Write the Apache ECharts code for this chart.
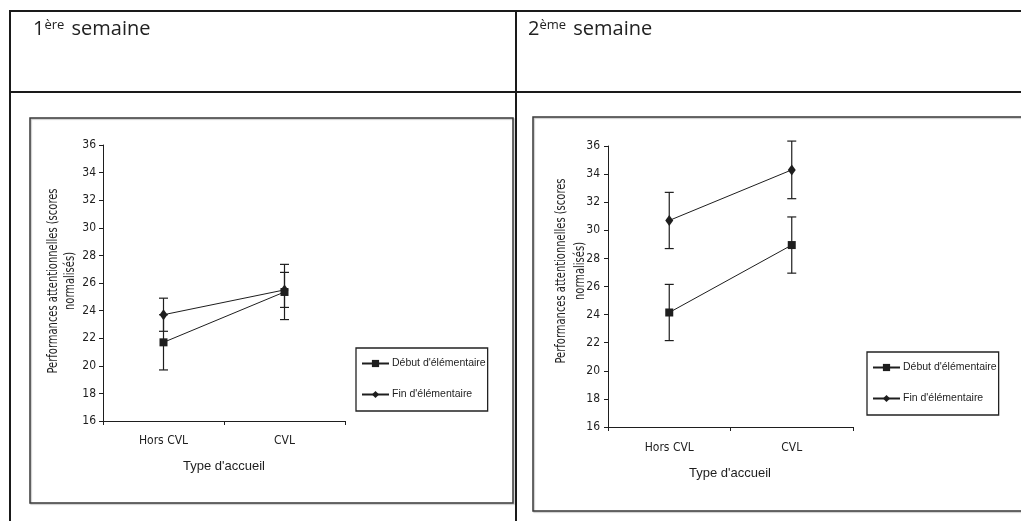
<!DOCTYPE html>
<html lang="fr">
<head>
<meta charset="UTF-8">
<title>Performances attentionnelles</title>
<script src="https://cdn.jsdelivr.net/npm/echarts@6/dist/echarts.min.js"></script>
<style>
  body { margin: 0; background: #fff; }
  #box { width: 1021px; height: 521px; }
</style>
</head>
<body>
<div id="box"></div>
<script>
    var categories = ['Hors CVL', 'CVL'];
    var yTicks = [16, 36, 2];

    // 1ere semaine
    var s1Debut = [21.7, 25.35];
    var s1DebutErr = [2.0, 2.0];
    var s1Fin = [23.7, 25.5];
    var s1FinErr = [1.2, 1.27];

    // 2eme semaine
    var s2Debut = [24.15, 28.95];
    var s2DebutErr = [2.0, 2.0];
    var s2Fin = [30.7, 34.3];
    var s2FinErr = [2.0, 2.05];

    var serieNames = ['Début d\'élémentaire', 'Fin d\'élémentaire'];

    var narrow = "'Liberation Sans Narrow', 'Arial Narrow', 'DejaVu Sans Condensed', sans-serif";
    var ink = '#1e1e1e';

    var myChart = echarts.init(document.getElementById('box'));

    // barres d'erreur : [categorie, bas, haut]
    function errData(vals, errs) {
        var out = [];
        for (var i = 0; i < vals.length; i++)
            out.push([i, vals[i] - errs[i], vals[i] + errs[i]]);
        return out;
    }

    function renderErr(params, api) {
        var lo = api.coord([api.value(0), api.value(1)]);
        var hi = api.coord([api.value(0), api.value(2)]);
        var hw = 4.5;
        var st = { stroke: ink, lineWidth: 1.2 };
        return {
            type: 'group',
            children: [
                { type: 'line', shape: { x1: lo[0], y1: lo[1], x2: hi[0], y2: hi[1] }, style: st },
                { type: 'line', shape: { x1: lo[0] - hw, y1: lo[1], x2: lo[0] + hw, y2: lo[1] }, style: st },
                { type: 'line', shape: { x1: hi[0] - hw, y1: hi[1], x2: hi[0] + hw, y2: hi[1] }, style: st }
            ]
        };
    }

    function xAxis(idx, margin) {
        return {
            type: 'category', gridIndex: idx, data: categories, boundaryGap: true,
            axisLine: { lineStyle: { color: ink, width: 1 } },
            axisTick: { show: true, length: 4, alignWithLabel: false, lineStyle: { color: ink } },
            axisLabel: { margin: margin, fontSize: 12, fontFamily: narrow, color: ink },
            splitLine: { show: false }
        };
    }

    function yAxis(idx, margin) {
        return {
            type: 'value', gridIndex: idx, min: yTicks[0], max: yTicks[1], interval: yTicks[2],
            axisLine: { show: true, lineStyle: { color: ink, width: 1 } },
            axisTick: { show: true, length: 4, lineStyle: { color: ink } },
            axisLabel: { margin: margin, fontSize: 12, fontFamily: narrow, color: ink },
            splitLine: { show: false }
        };
    }

    function lineSerie(name, idx, data, symbol, size) {
        return {
            name: name, type: 'line', xAxisIndex: idx, yAxisIndex: idx,
            data: data, symbol: symbol, symbolSize: size,
            lineStyle: { color: ink, width: 1 },
            itemStyle: { color: ink },
            z: 3, animation: false
        };
    }

    function errSerie(idx, data) {
        return {
            type: 'custom', xAxisIndex: idx, yAxisIndex: idx,
            data: data, renderItem: renderErr, z: 2, silent: true, animation: false
        };
    }

    function legend(left, top) {
        return {
            orient: 'vertical', left: left, top: top,
            data: serieNames,
            itemWidth: 27, itemHeight: 9, itemGap: 20,
            padding: [10, 2, 11, 5],
            borderColor: '#222', borderWidth: 1.3,
            textStyle: { fontSize: 10.5, fontFamily: "'Liberation Sans', Arial, sans-serif", color: ink, padding: [0, 0, 0, -2] },
            selectedMode: false
        };
    }

    function header(x, num, sup) {
        return {
            type: 'text', x: x, y: 17,
            style: {
                text: '{n|' + num + '}{s|' + sup + '}{n| semaine}',
                rich: {
                    n: { fontSize: 20, fontFamily: "'Open Sans', sans-serif", fill: '#222', lineHeight: 24 },
                    s: { fontSize: 13, fontFamily: "'Open Sans', sans-serif", fill: '#222', verticalAlign: 'top', lineHeight: 15, padding: [2, 2, 0, 0] }
                }
            }
        };
    }

    // titre vertical, resserre horizontalement comme une police etroite
    function yTitle(x, y, gap) {
        return {
            type: 'text', x: x, y: y, rotation: Math.PI / 2, scaleX: 0.82,
            style: {
                text: 'Performances attentionnelles (scores\nnormalisés)',
                align: 'center', verticalAlign: 'middle',
                fontSize: 13.5, fontFamily: narrow, fill: ink, lineHeight: gap
            }
        };
    }

    function xTitle(x, y) {
        return {
            type: 'text', x: x, y: y,
            style: {
                text: 'Type d\'accueil', align: 'center', verticalAlign: 'middle',
                fontSize: 13, fontFamily: "'Liberation Sans', Arial, sans-serif", fill: ink
            }
        };
    }

    var tableLine = { stroke: '#1a1a1a', lineWidth: 2 };
    var boxLine = { fill: 'none', stroke: '#3a3a3a', lineWidth: 1.5, shadowColor: 'rgba(0,0,0,0.25)', shadowOffsetX: 1, shadowOffsetY: 1, shadowBlur: 1 };

    var option = {
        backgroundColor: '#fff',
        animation: false,
        grid: [
            { left: 103, top: 145, width: 242, height: 276 },
            { left: 608, top: 146, width: 245, height: 281 }
        ],
        xAxis: [xAxis(0, 14), xAxis(1, 15)],
        yAxis: [yAxis(0, 7), yAxis(1, 8)],
        legend: [legend(356, 348), legend(867, 352)],
        series: [
            errSerie(0, errData(s1Debut, s1DebutErr)),
            errSerie(0, errData(s1Fin, s1FinErr)),
            lineSerie(serieNames[0], 0, s1Debut, 'rect', 8),
            lineSerie(serieNames[1], 0, s1Fin, 'diamond', [8, 11]),
            errSerie(1, errData(s2Debut, s2DebutErr)),
            errSerie(1, errData(s2Fin, s2FinErr)),
            lineSerie(serieNames[0], 1, s2Debut, 'rect', 8),
            lineSerie(serieNames[1], 1, s2Fin, 'diamond', [8, 11])
        ],
        graphic: [
            // tableau
            { type: 'line', shape: { x1: 9, y1: 11, x2: 1021, y2: 11 }, style: tableLine },
            { type: 'line', shape: { x1: 9, y1: 92, x2: 1021, y2: 92 }, style: tableLine },
            { type: 'line', shape: { x1: 10, y1: 10, x2: 10, y2: 521 }, style: tableLine },
            { type: 'line', shape: { x1: 516, y1: 10, x2: 516, y2: 521 }, style: tableLine },
            // cadres des graphiques
            { type: 'rect', shape: { x: 30, y: 118, width: 483, height: 385 }, style: boxLine },
            { type: 'rect', shape: { x: 533, y: 117, width: 500, height: 394 }, style: boxLine },
            header(33, '1', 'ère'),
            header(528, '2', 'ème'),
            yTitle(61.5, 281, 17),
            yTitle(571, 271, 19),
            xTitle(224, 466),
            xTitle(730, 473)
        ]
    };

    myChart.setOption(option);
</script>
</body>
</html>
